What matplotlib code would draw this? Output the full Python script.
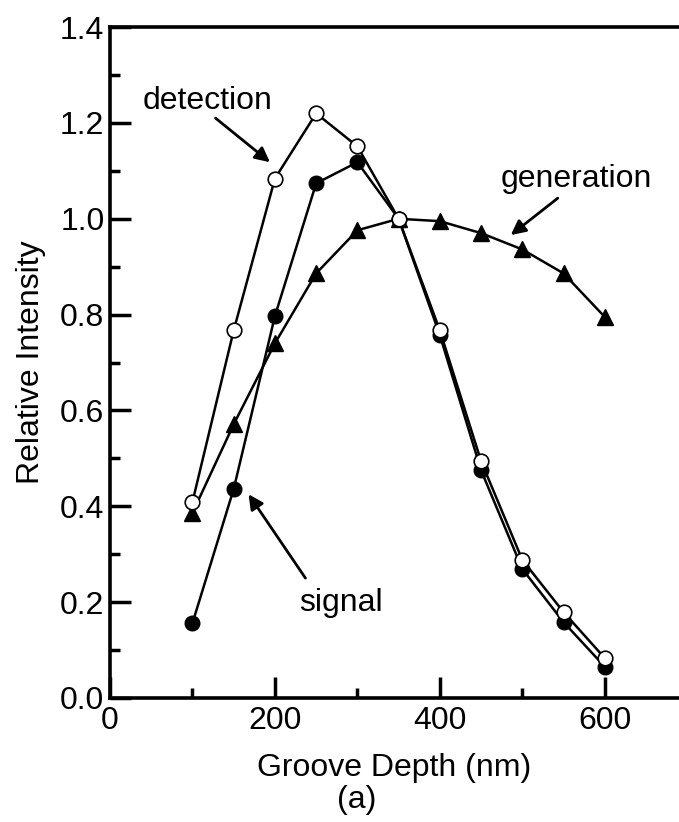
import matplotlib
matplotlib.use("Agg")
import matplotlib.pyplot as plt
from matplotlib.ticker import MultipleLocator

plt.rcParams['font.family'] = ['Liberation Sans', 'DejaVu Sans']

depth = [100, 150, 200, 250, 300, 350, 400, 450, 500, 550, 600]
detection = [0.409, 0.767, 1.084, 1.22, 1.151, 1.0, 0.767, 0.494, 0.288, 0.179, 0.083]
signal = [0.156, 0.436, 0.797, 1.074, 1.118, 1.0, 0.757, 0.475, 0.269, 0.158, 0.065]
generation = [0.386, 0.571, 0.74, 0.886, 0.976, 1.0, 0.995, 0.97, 0.936, 0.886, 0.795]

x_ticks = [0, 200, 400, 600]
y_ticks = [0.0, 0.2, 0.4, 0.6, 0.8, 1.0, 1.2, 1.4]

fig = plt.figure(figsize=(6.79, 8.22), dpi=100)
ax = fig.add_axes([0.162, 0.151, 0.838, 0.816])

lw = 1.8
ax.plot(depth, generation, '-', color='black', lw=lw, marker='^', ms=12,
        mfc='black', mec='black', zorder=2)
ax.plot(depth, signal, '-', color='black', lw=lw, marker='o', ms=10.5,
        mfc='black', mec='black', zorder=3)
ax.plot(depth, detection, '-', color='black', lw=lw, marker='o', ms=10.5,
        mfc='white', mec='black', mew=1.2, zorder=4)

ax.set_xlim(0, 690)
ax.set_ylim(0, 1.4)
ax.set_xticks(x_ticks)
ax.set_yticks(y_ticks)
ax.set_yticklabels([f"{v:.1f}" for v in y_ticks])
ax.xaxis.set_minor_locator(MultipleLocator(100))
ax.yaxis.set_minor_locator(MultipleLocator(0.1))
ax.tick_params(which='major', direction='in', length=15, width=2.5, labelsize=23, pad=4)
ax.tick_params(which='minor', direction='in', length=7, width=2.5)
ax.tick_params(axis='x', pad=6)
ax.spines['right'].set_visible(False)
for s in ['left', 'bottom', 'top']:
    ax.spines[s].set_linewidth(2.6)

ax.set_xlabel('Groove Depth (nm)', fontsize=23, labelpad=12)
ax.set_ylabel('Relative Intensity', fontsize=23, labelpad=10)
fig.text(0.526, 0.027, '(a)', fontsize=23, ha='center', va='center')

arrow = dict(arrowstyle='-|>', color='black', lw=2.0, mutation_scale=22, shrinkA=0, shrinkB=0)
ax.text(118, 1.245, 'detection', fontsize=23, ha='center', va='center')
ax.annotate('', xy=(194, 1.118), xytext=(128, 1.21), arrowprops=arrow)
ax.text(565, 1.084, 'generation', fontsize=23, ha='center', va='center')
ax.annotate('', xy=(486, 0.966), xytext=(543, 1.043), arrowprops=arrow)
ax.text(280, 0.198, 'signal', fontsize=23, ha='center', va='center')
ax.annotate('', xy=(168, 0.425), xytext=(237, 0.25), arrowprops=arrow)

fig.savefig('out.png', dpi=100)
